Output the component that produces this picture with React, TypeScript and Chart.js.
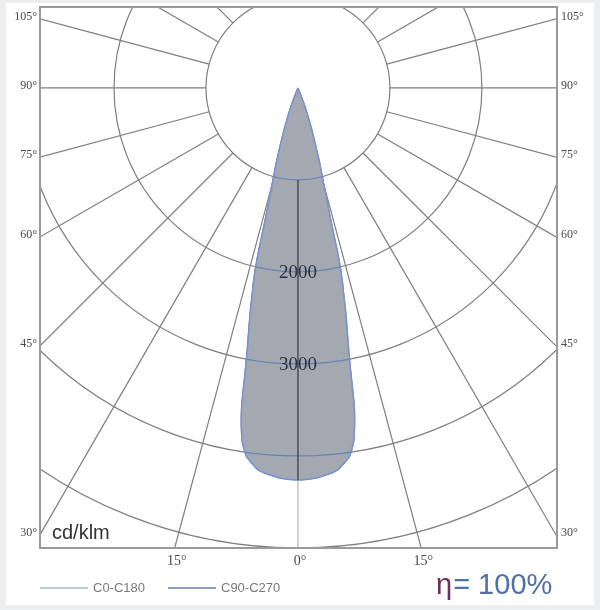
import React, { useEffect, useRef } from "react";
import { Chart, registerables } from "chart.js";
Chart.register(...registerables);

// Polar angle gamma (deg from nadir) and luminous intensity (cd/klm)
const gammaDeg = [0, 2.5, 5, 6, 7, 8, 9, 10, 10.5, 11, 11.5, 12, 12.5, 13, 13.5, 14, 15, 16, 17, 18, 19, 20, 21, 22, 23, 25, 30, 45, 60, 75, 90];
const intensityC0C180 = [4260, 4245, 4200, 4170, 4110, 4040, 3880, 3530, 3160, 2880, 2680, 2500, 2300, 2130, 1880, 1450, 1080, 880, 680, 520, 390, 280, 180, 90, 35, 0, 0, 0, 0, 0, 0];
const intensityC90C270 = [4260, 4245, 4200, 4170, 4110, 4040, 3880, 3530, 3160, 2880, 2680, 2500, 2300, 2130, 1880, 1450, 1080, 880, 680, 520, 390, 280, 180, 90, 35, 0, 0, 0, 0, 0, 0];

const ringValues = [1000, 2000, 3000, 4000, 5000, 6000];
const ringLabelValues = [2000, 3000];
const radialStepDeg = 15;
const sideTickAngles = [30, 45, 60, 75, 90, 105];
const bottomTickAngles = [-15, 0, 15];
const legendLabels = ["C0-C180", "C90-C270"];
const unitLabel = "cd/klm";
const etaSymbol = "η";
const etaValue = "= 100%";

const X_MIN = -2804, X_MAX = 2816, Y_MIN = -5000, Y_MAX = 880;

function toPoints(vals: number[]) {
  const pts: { x: number; y: number }[] = [];
  for (let i = gammaDeg.length - 1; i >= 0; i--) {
    const g = (-gammaDeg[i] * Math.PI) / 180;
    pts.push({ x: vals[i] * Math.sin(g), y: -vals[i] * Math.cos(g) });
  }
  for (let i = 1; i < gammaDeg.length; i++) {
    const g = (gammaDeg[i] * Math.PI) / 180;
    pts.push({ x: vals[i] * Math.sin(g), y: -vals[i] * Math.cos(g) });
  }
  return pts;
}

const GRID = "#7e7e7e";
const SERIF = '"Liberation Serif", "DejaVu Serif", serif';
const SANS = '"Liberation Sans", Arial, sans-serif';

const polarPlugin = {
  id: "polarGrid",
  beforeDraw(chart: any) {
    const { ctx, width, height } = chart;
    ctx.save();
    ctx.fillStyle = "#eceef0";
    ctx.fillRect(0, 0, width, height);
    ctx.fillStyle = "#ffffff";
    ctx.fillRect(6, 3, 588, 602);
    ctx.restore();
  },
  beforeDatasetsDraw(chart: any) {
    const { ctx, chartArea: a } = chart;
    const xs = chart.scales.x, ys = chart.scales.y;
    const cx = xs.getPixelForValue(0), cy = ys.getPixelForValue(0);
    const rp = (v: number) => xs.getPixelForValue(v) - cx;
    ctx.save();
    ctx.beginPath();
    ctx.rect(a.left, a.top, a.right - a.left, a.bottom - a.top);
    ctx.clip();
    ctx.strokeStyle = GRID;
    ctx.lineWidth = 1.2;
    for (const r of ringValues) {
      ctx.beginPath();
      ctx.arc(cx, cy, rp(r), 0, Math.PI * 2);
      ctx.stroke();
    }
    const r0 = rp(ringValues[0]);
    for (let d = -180 + radialStepDeg; d <= 180; d += radialStepDeg) {
      const g = (d * Math.PI) / 180;
      const dx = Math.sin(g), dy = Math.cos(g);
      ctx.strokeStyle = d === 0 ? "#b4b4b4" : GRID;
      ctx.beginPath();
      ctx.moveTo(cx + dx * r0, cy + dy * r0);
      ctx.lineTo(cx + dx * 1500, cy + dy * 1500);
      ctx.stroke();
    }
    ctx.restore();

    // angle labels
    ctx.save();
    ctx.fillStyle = "#4a4a4a";
    ctx.font = `12px ${SERIF}`;
    ctx.textBaseline = "middle";
    for (const t of sideTickAngles) {
      const g = (t * Math.PI) / 180;
      const yv = (X_MIN * Math.cos(g)) / Math.sin(g);
      const py = ys.getPixelForValue(yv) - 2;
      ctx.textAlign = "right";
      ctx.fillText(`${t}°`, a.left - 3, py);
      ctx.textAlign = "left";
      ctx.fillText(`${t}°`, a.right + 4, py);
    }
    ctx.font = `14px ${SERIF}`;
    ctx.textAlign = "center";
    ctx.textBaseline = "top";
    for (const t of bottomTickAngles) {
      const g = (t * Math.PI) / 180;
      const xv = -Y_MIN * Math.tan(g);
      ctx.fillText(`${Math.abs(t)}°`, xs.getPixelForValue(xv) + 2, a.bottom + 6);
    }
    ctx.restore();
  },
  afterDatasetsDraw(chart: any) {
    const { ctx, chartArea: a } = chart;
    const xs = chart.scales.x, ys = chart.scales.y;
    const cx = xs.getPixelForValue(0), cy = ys.getPixelForValue(0);
    const rp = (v: number) => xs.getPixelForValue(v) - cx;
    const meta = chart.getDatasetMeta(0);
    ctx.save();
    ctx.beginPath();
    meta.data.forEach((p: any, i: number) => (i ? ctx.lineTo(p.x, p.y) : ctx.moveTo(p.x, p.y)));
    ctx.closePath();
    ctx.clip();
    ctx.strokeStyle = "rgba(85,115,185,0.75)";
    ctx.lineWidth = 1.2;
    for (const r of ringValues) {
      ctx.beginPath();
      ctx.arc(cx, cy, rp(r), 0, Math.PI * 2);
      ctx.stroke();
    }
    ctx.strokeStyle = "#505359";
    ctx.lineWidth = 1.6;
    ctx.beginPath();
    ctx.moveTo(cx, cy + rp(ringValues[0]));
    ctx.lineTo(cx, cy + 1000);
    ctx.stroke();
    ctx.restore();

    // ring labels
    ctx.save();
    ctx.font = `19px ${SERIF}`;
    ctx.fillStyle = "#2b3142";
    ctx.textAlign = "center";
    ctx.textBaseline = "middle";
    for (const v of ringLabelValues) {
      ctx.fillText(String(v), cx, ys.getPixelForValue(-v) + 1);
    }
    ctx.restore();

    // frame
    ctx.save();
    ctx.strokeStyle = "#9a9a9a";
    ctx.lineWidth = 2;
    ctx.strokeRect(a.left, a.top, a.right - a.left, a.bottom - a.top);
    ctx.restore();

    // unit
    ctx.save();
    ctx.font = `20px ${SANS}`;
    ctx.fillStyle = "#333333";
    ctx.textAlign = "left";
    ctx.textBaseline = "alphabetic";
    ctx.fillText(unitLabel, a.left + 12, a.bottom - 9);
    ctx.restore();
  },
  afterDraw(chart: any) {
    const { ctx, chartArea: a } = chart;
    ctx.save();
    const ly = 588;
    const legendColors = ["#a9b7d0", "#6f7f9f"];
    const starts = [a.left, a.left + 128];
    ctx.font = `13px ${SANS}`;
    ctx.textBaseline = "middle";
    ctx.textAlign = "left";
    legendLabels.forEach((lab, i) => {
      ctx.strokeStyle = legendColors[i];
      ctx.lineWidth = 1.5;
      ctx.beginPath();
      ctx.moveTo(starts[i], ly);
      ctx.lineTo(starts[i] + 48, ly);
      ctx.stroke();
      ctx.fillStyle = "#7a7a7a";
      ctx.fillText(lab, starts[i] + 53, ly);
    });
    // efficiency
    ctx.font = `29px ${SANS}`;
    ctx.textBaseline = "alphabetic";
    ctx.fillStyle = "#6e2d63";
    const ex = 436, ey = 594;
    ctx.fillText(etaSymbol, ex, ey);
    const w = ctx.measureText(etaSymbol).width;
    ctx.fillStyle = "#4f6fa8";
    ctx.fillText(etaValue, ex + w + 1, ey);
    ctx.restore();
  },
};

export default function App() {
  const ref = useRef<HTMLCanvasElement>(null);
  useEffect(() => {
    const chart = new Chart(ref.current!, {
      type: "scatter",
      data: {
        datasets: [
          {
            label: legendLabels[0],
            data: toPoints(intensityC0C180),
            showLine: true,
            fill: "shape",
            backgroundColor: "#a4a8b0",
            borderColor: "#7894cc",
            borderWidth: 1.5,
            pointRadius: 0,
            tension: 0.2,
          },
          {
            label: legendLabels[1],
            data: toPoints(intensityC90C270),
            showLine: true,
            fill: false,
            borderColor: "#5572b4",
            borderWidth: 1.2,
            pointRadius: 0,
            tension: 0.2,
          },
        ],
      } as any,
      options: {
        animation: false,
        responsive: false,
        devicePixelRatio: 1,
        layout: { padding: { left: 40, right: 43, top: 7, bottom: 62 } },
        scales: {
          x: { type: "linear", min: X_MIN, max: X_MAX, display: false },
          y: { type: "linear", min: Y_MIN, max: Y_MAX, display: false },
        },
        plugins: { legend: { display: false }, tooltip: { enabled: false } },
      },
      plugins: [polarPlugin],
    } as any);
    return () => chart.destroy();
  }, []);
  return (
    <div style={{ position: "fixed", left: 0, top: 0, width: 600, height: 610 }}>
      <canvas ref={ref} width={600} height={610} style={{ display: "block", width: 600, height: 610 }} />
    </div>
  );
}
